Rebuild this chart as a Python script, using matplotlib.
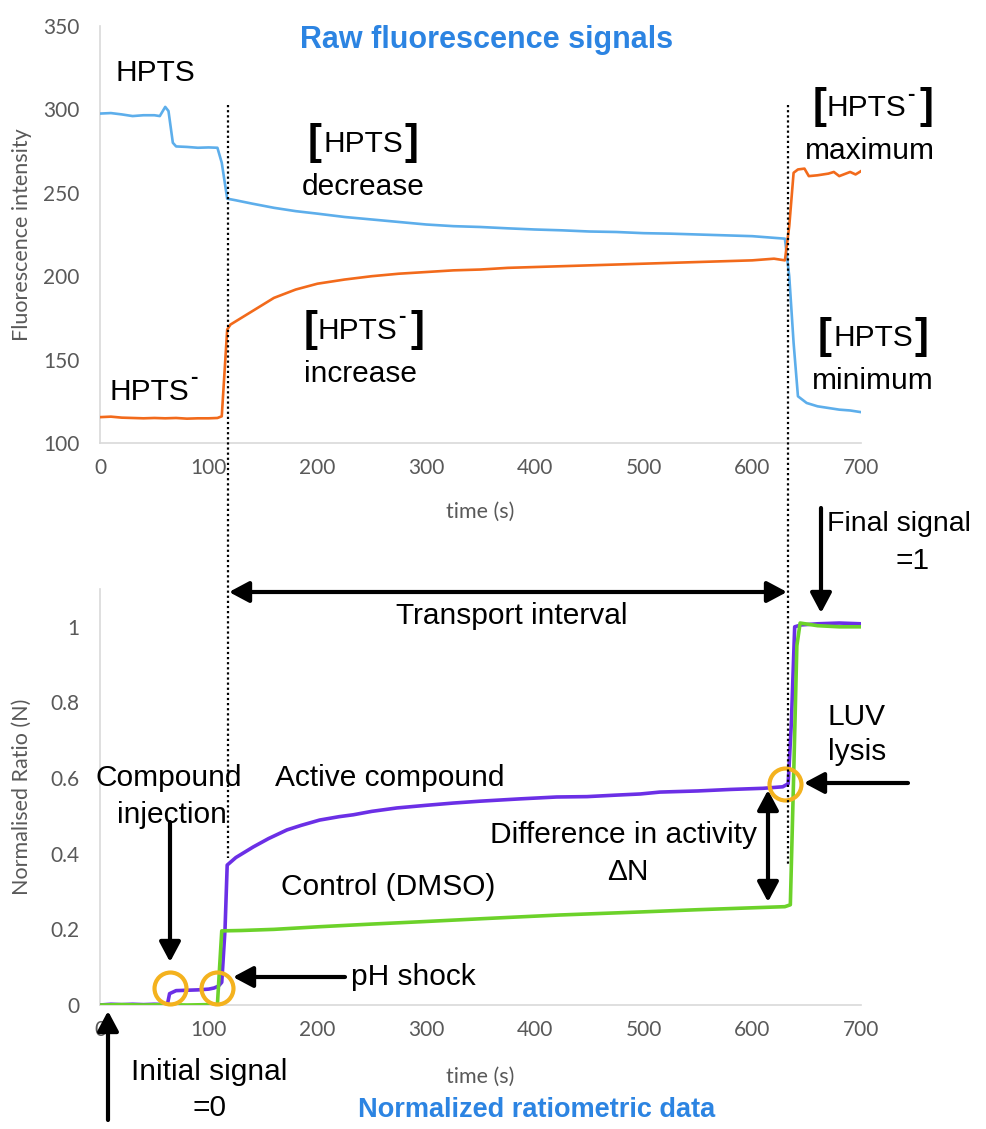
import matplotlib
matplotlib.use("Agg")
import matplotlib.pyplot as plt
from matplotlib.lines import Line2D
from matplotlib.transforms import blended_transform_factory

# ---------------- data ----------------
t_hpts = [0, 10, 20, 30, 40, 50, 55, 60, 63, 67, 70, 80, 90, 100, 108, 112, 117, 125, 140,
          160, 180, 200, 225, 250, 275, 300, 325, 350, 375, 400, 425, 450, 475, 500, 525,
          550, 575, 600, 620, 630, 634, 638, 642, 650, 660, 670, 680, 690, 700]
hpts = [297.5, 297.8, 297.0, 296.0, 296.5, 296.5, 296.0, 301.5, 299.0, 280.0, 277.8, 277.5,
        277.0, 277.2, 277.0, 268.0, 246.5, 245.5, 243.5, 241.0, 239.0, 237.5, 235.5, 234.0,
        232.5, 231.0, 230.0, 229.5, 228.7, 228.0, 227.5, 226.8, 226.5, 225.8, 225.5, 225.0,
        224.5, 224.0, 223.0, 222.5, 200.0, 160.0, 128.0, 124.0, 122.0, 121.0, 120.0, 119.5,
        118.5]

t_hpts_minus = [0, 10, 20, 30, 40, 50, 60, 70, 80, 90, 100, 108, 112, 117, 120, 125, 140,
                160, 180, 200, 225, 250, 275, 300, 325, 350, 375, 400, 425, 450, 475, 500,
                525, 550, 575, 600, 620, 630, 634, 638, 642, 648, 652, 660, 670, 675, 680,
                690, 695, 700]
hpts_minus = [115.5, 115.8, 115.2, 115.0, 114.8, 115.0, 114.8, 115.0, 114.6, 114.8, 114.8,
              115.0, 116.0, 168.0, 171.0, 173.0, 179.0, 187.0, 192.0, 195.5, 198.0, 200.0,
              201.5, 202.5, 203.5, 204.0, 205.0, 205.5, 206.0, 206.5, 207.0, 207.5, 208.0,
              208.5, 209.0, 209.5, 210.5, 209.5, 230.0, 262.0, 264.0, 264.5, 260.0, 260.5,
              261.5, 262.5, 260.0, 262.5, 261.0, 263.0]

t_active = [0, 10, 20, 30, 40, 50, 60, 62, 64, 70, 80, 90, 100, 105, 109, 112, 115, 117,
            125, 141, 155, 172, 185, 202, 220, 233, 250, 273, 300, 325, 350, 386, 420, 448,
            475, 497, 515, 550, 580, 610, 628, 633, 636, 639, 645, 660, 680, 700]
active = [0.0, 0.002, 0.001, 0.002, 0.001, 0.002, 0.001, 0.002, 0.030, 0.038, 0.039, 0.040,
          0.042, 0.045, 0.050, 0.060, 0.200, 0.370, 0.390, 0.418, 0.440, 0.463, 0.475, 0.489,
          0.498, 0.503, 0.512, 0.521, 0.528, 0.534, 0.539, 0.545, 0.550, 0.551, 0.555, 0.558,
          0.563, 0.566, 0.570, 0.573, 0.577, 0.585, 0.750, 1.000, 1.005, 1.008, 1.010, 1.008]

t_control = [0, 20, 40, 60, 80, 100, 108, 110, 112, 130, 160, 202, 250, 294, 350, 386, 423,
             460, 497, 550, 600, 630, 635, 638, 641, 644, 660, 680, 700]
control = [0.0, 0.001, 0.0, 0.001, 0.0, 0.001, 0.001, 0.100, 0.196, 0.197, 0.200, 0.207,
           0.214, 0.220, 0.228, 0.233, 0.238, 0.242, 0.246, 0.252, 0.257, 0.260, 0.265, 0.600,
           0.950, 1.010, 1.003, 1.000, 1.000]

top_yticks = [100, 150, 200, 250, 300, 350]
bottom_yticks = [0, 0.2, 0.4, 0.6, 0.8, 1.0]
bottom_yticklabels = ["0", "0.2", "0.4", "0.6", "0.8", "1"]
xticks = [0, 100, 200, 300, 400, 500, 600, 700]
event_times = [118, 633]                      # dotted lines
circle_t = [64, 108, 630]                     # highlighted points
circle_v = [0.045, 0.045, 0.585]

# ---------------- figure ----------------
W, H = 986, 1129
fig = plt.figure(figsize=(W / 100, H / 100), dpi=100)
fig.patch.set_facecolor("white")

BLUE_LINE = "#5DAEEB"
ORANGE = "#F26A1B"
PURPLE = "#6B2FE6"
GREEN = "#6CD22A"
AMBER = "#F4B21E"
TITLE = "#2C84E2"
GRAY = "#595959"
SPINE = "#D9D9D9"
TICKFONT = "Lato"
ANN = ["Liberation Sans", "DejaVu Sans"]


def axes_rect(left, right, top, bottom):
    return [left / W, 1 - bottom / H, (right - left) / W, (bottom - top) / H]


ax1 = fig.add_axes(axes_rect(100, 861, 26, 443))
ax2 = fig.add_axes(axes_rect(100, 861, 589, 1005))

for ax in (ax1, ax2):
    for s in ("top", "right"):
        ax.spines[s].set_visible(False)
    for s in ("left", "bottom"):
        ax.spines[s].set_color(SPINE)
        ax.spines[s].set_linewidth(1.2)
    ax.set_xlim(0, 700)
    ax.set_xticks(xticks)
    ax.tick_params(length=0, labelcolor=GRAY, labelsize=15)
    ax.tick_params(axis="y", pad=15)
    ax.tick_params(axis="x", pad=11)
    for lab in ax.get_xticklabels() + ax.get_yticklabels():
        lab.set_family(TICKFONT)

ax1.plot(t_hpts, hpts, color=BLUE_LINE, lw=1.9, zorder=3)
ax1.plot(t_hpts_minus, hpts_minus, color=ORANGE, lw=1.9, zorder=3)
ax1.set_ylim(100, 350)
ax1.set_yticks(top_yticks)
for lab in ax1.get_yticklabels():
    lab.set_family(TICKFONT)
ax1.set_ylabel("Fluorescence intensity", fontsize=15.5, color=GRAY, family=TICKFONT, va="center")
ax1.yaxis.set_label_coords(-0.1025, 0.5)
ax1.set_xlabel("time (s)", fontsize=15.5, color=GRAY, family=TICKFONT, va="center")
ax1.xaxis.set_label_coords(0.5, -69 / 417)

ax2.plot(t_active, active, color=PURPLE, lw=2.6, zorder=3)
ax2.plot(t_control, control, color=GREEN, lw=2.6, zorder=4)
ax2.plot(circle_t, circle_v, "o", ms=23, mfc="none", mec=AMBER, mew=3, zorder=6, clip_on=False)
ax2.set_ylim(0, 1.1)
ax2.set_yticks(bottom_yticks)
ax2.set_yticklabels(bottom_yticklabels)
for lab in ax2.get_yticklabels() + ax2.get_xticklabels():
    lab.set_family(TICKFONT)
ax2.set_ylabel("Normalised Ratio (N)", fontsize=15.5, color=GRAY, family=TICKFONT, va="center")
ax2.yaxis.set_label_coords(-0.1025, 0.5)
ax2.set_xlabel("time (s)", fontsize=15.5, color=GRAY, family=TICKFONT, va="center")
ax2.xaxis.set_label_coords(0.5, -72 / 416)

# dotted event lines spanning both panels
trans = blended_transform_factory(ax1.transData, fig.transFigure)
for t, ybot in zip(event_times, [858, 865]):
    fig.add_artist(Line2D([t, t], [1 - 105 / H, 1 - ybot / H], transform=trans,
                          color="black", lw=1.6, ls=(0, (1, 1.3)), zorder=10))


# ---------------- annotation helpers ----------------
def ptext(x, y, s, size=21.5, **kw):
    kw.setdefault("ha", "center")
    kw.setdefault("va", "center")
    kw.setdefault("family", ANN)
    kw.setdefault("color", "black")
    fig.text(x / W, 1 - y / H, s, fontsize=size, **kw)


def parrow(x1, y1, x2, y2, style="-|>"):
    ax2.annotate("", xy=(x2 / W, 1 - y2 / H), xytext=(x1 / W, 1 - y1 / H),
                 xycoords="figure fraction", textcoords="figure fraction",
                 annotation_clip=False,
                 arrowprops=dict(arrowstyle=style + ",head_length=0.6,head_width=0.32",
                                 mutation_scale=20, lw=3, color="black",
                                 shrinkA=0, shrinkB=0))


# titles
ptext(487, 40, "Raw fluorescence signals", size=22, weight="bold", color=TITLE)
ptext(537, 1110, "Normalized ratiometric data", size=19.5, weight="bold", color=TITLE)

# top-panel labels
ptext(155, 73, "HPTS")
ptext(149, 392, "HPTS")
ptext(194, 378, "-", size=16, weight="bold")


def bracket_label(cx, cy, word, below, minus=False):
    hw = 40 if not minus else 42
    ptext(cx - (4 if minus else 0), cy + 1, "HPTS")
    if minus:
        ptext(cx + 41, cy - 13, "-", size=16, weight="bold")
    ptext(cx - hw - 8, cy, "[", size=30, weight="bold")
    ptext(cx + hw + 8 + (6 if minus else 0), cy, "]", size=30, weight="bold")
    ptext(cx, cy + 44, below)


bracket_label(363, 143, "HPTS", "decrease")
bracket_label(361, 330, "HPTS", "increase", minus=True)
bracket_label(870, 107, "HPTS", "maximum", minus=True)
bracket_label(873, 337, "HPTS", "minimum")

# bottom-panel labels
ptext(169, 778, "Compound")
ptext(172, 815, "injection")
ptext(390, 778, "Active compound")
ptext(388, 887, "Control (DMSO)")
ptext(624, 835, "Difference in activity")
ptext(628, 872, "\u0394N")
ptext(413, 977, "pH shock")
ptext(856, 717, "LUV")
ptext(857, 752, "lysis")
ptext(827, 524, "Final signal", size=20.5, ha="left")
ptext(913, 561, "=1")
ptext(209, 1072, "Initial signal")
ptext(210, 1108, "=0")
ptext(512, 616, "Transport interval")

# arrows
parrow(170, 822, 170, 962)           # compound injection
parrow(345, 977, 233, 977)           # pH shock
parrow(108, 1120, 108, 1011)         # initial signal
parrow(229, 592, 787, 592, "<|-|>")  # transport interval
parrow(821, 508, 821, 613)           # final signal
parrow(908, 783, 804, 783)           # LUV lysis
parrow(768, 790, 768, 902, "<|-|>")  # delta N

fig.savefig("out.png", dpi=100, facecolor="white")
